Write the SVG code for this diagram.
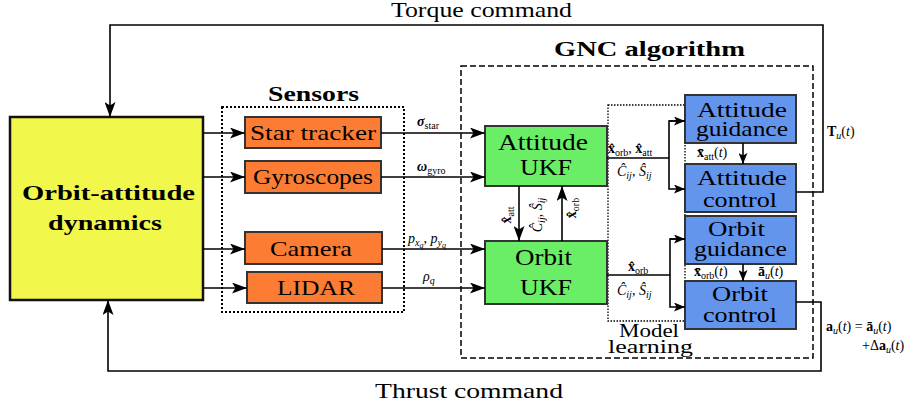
<svg xmlns="http://www.w3.org/2000/svg" width="920" height="410" viewBox="0 0 920 410" font-family="Liberation Serif, serif">
<defs>
<marker id="ah" markerUnits="userSpaceOnUse" markerWidth="15" markerHeight="11" refX="15" refY="5.5" orient="auto">
<path d="M0,0 L15,5.5 L0,11 L3.5,5.5 z" fill="#000"/>
</marker>
<marker id="as" markerUnits="userSpaceOnUse" markerWidth="11" markerHeight="9" refX="11" refY="4.5" orient="auto">
<path d="M0,0 L11,4.5 L0,9 L2.5,4.5 z" fill="#000"/>
</marker>
</defs>

<g id="dynamics">
<rect x="10" y="117" width="193" height="183" fill="#F2F84B" stroke="#111" stroke-width="2.5"/>
<text font-family="Liberation Serif" font-weight="bold" font-size="22" x="22" y="200" textLength="173" lengthAdjust="spacingAndGlyphs">Orbit-attitude</text>
<text font-family="Liberation Serif" font-weight="bold" font-size="22" x="48" y="230" textLength="114" lengthAdjust="spacingAndGlyphs">dynamics</text>
</g>

<g id="sensors">
<rect x="222" y="107" width="182" height="205" fill="none" stroke="#000" stroke-width="2" stroke-dasharray="2,2"/>
<text font-family="Liberation Serif" font-weight="bold" font-size="22" x="268" y="101" textLength="91" lengthAdjust="spacingAndGlyphs">Sensors</text>
</g>
<g id="sensor-boxes" stroke="#333" stroke-width="2" fill="#FC7C33">
<g id="star"><rect x="245" y="117" width="136" height="31"/><text stroke="none" fill="#000" font-family="Liberation Serif" font-size="22" x="250" y="140" textLength="126" lengthAdjust="spacingAndGlyphs">Star tracker</text></g>
<g id="gyro"><rect x="245" y="161" width="136" height="32"/><text stroke="none" fill="#000" font-family="Liberation Serif" font-size="22" x="253" y="184" textLength="120" lengthAdjust="spacingAndGlyphs">Gyroscopes</text></g>
<g id="camera"><rect x="245" y="232" width="137" height="32"/><text stroke="none" fill="#000" font-family="Liberation Serif" font-size="22" x="270" y="256" textLength="82" lengthAdjust="spacingAndGlyphs">Camera</text></g>
<g id="lidar"><rect x="247" y="272" width="135" height="31"/><text stroke="none" fill="#000" font-family="Liberation Serif" font-size="22" x="277" y="295" textLength="78" lengthAdjust="spacingAndGlyphs">LIDAR</text></g>
</g>

<g id="gnc">
<rect x="461" y="66" width="352" height="292" fill="none" stroke="#000" stroke-width="1.5" stroke-dasharray="6,3"/>
<text font-family="Liberation Serif" font-weight="bold" font-size="22" x="554" y="56" textLength="191" lengthAdjust="spacingAndGlyphs">GNC algorithm</text>
</g>

<g id="model">
<rect x="608" y="105" width="77" height="216" fill="none" stroke="#000" stroke-width="1.3" stroke-dasharray="1.5,1.5"/>
<text font-family="Liberation Serif" font-size="19" x="619" y="337" textLength="60" lengthAdjust="spacingAndGlyphs">Model</text>
<text font-family="Liberation Serif" font-size="19" x="608" y="353" textLength="85" lengthAdjust="spacingAndGlyphs">learning</text>
</g>

<g id="ukfs" stroke="#333" stroke-width="2" fill="#6AEE66">
<g id="attukf"><rect x="485" y="126" width="122" height="60"/>
<text stroke="none" fill="#000" font-family="Liberation Serif" font-size="24" x="498" y="150" textLength="90" lengthAdjust="spacingAndGlyphs">Attitude</text>
<text stroke="none" fill="#000" font-family="Liberation Serif" font-size="24" x="520" y="175" textLength="52" lengthAdjust="spacingAndGlyphs">UKF</text></g>
<g id="orbukf"><rect x="485" y="241" width="122" height="63"/>
<text stroke="none" fill="#000" font-family="Liberation Serif" font-size="24" x="515" y="265" textLength="57" lengthAdjust="spacingAndGlyphs">Orbit</text>
<text stroke="none" fill="#000" font-family="Liberation Serif" font-size="24" x="520" y="295" textLength="52" lengthAdjust="spacingAndGlyphs">UKF</text></g>
</g>

<g id="gnc-blocks" stroke="#333" stroke-width="2" fill="#6495ED">
<g id="attguid"><rect x="685" y="95" width="111" height="48"/>
<text stroke="none" fill="#000" font-family="Liberation Serif" font-size="22" x="697" y="117" textLength="90" lengthAdjust="spacingAndGlyphs">Attitude</text>
<text stroke="none" fill="#000" font-family="Liberation Serif" font-size="22" x="696" y="136" textLength="92" lengthAdjust="spacingAndGlyphs">guidance</text></g>
<g id="attctrl"><rect x="685" y="164" width="111" height="48"/>
<text stroke="none" fill="#000" font-family="Liberation Serif" font-size="22" x="697" y="185" textLength="90" lengthAdjust="spacingAndGlyphs">Attitude</text>
<text stroke="none" fill="#000" font-family="Liberation Serif" font-size="22" x="703" y="207" textLength="74" lengthAdjust="spacingAndGlyphs">control</text></g>
<g id="orbguid"><rect x="685" y="216" width="111" height="48"/>
<text stroke="none" fill="#000" font-family="Liberation Serif" font-size="22" x="708" y="236" textLength="57" lengthAdjust="spacingAndGlyphs">Orbit</text>
<text stroke="none" fill="#000" font-family="Liberation Serif" font-size="22" x="694" y="256" textLength="93" lengthAdjust="spacingAndGlyphs">guidance</text></g>
<g id="orbctrl"><rect x="685" y="281" width="111" height="48"/>
<text stroke="none" fill="#000" font-family="Liberation Serif" font-size="22" x="712" y="301" textLength="56" lengthAdjust="spacingAndGlyphs">Orbit</text>
<text stroke="none" fill="#000" font-family="Liberation Serif" font-size="22" x="703" y="322" textLength="74" lengthAdjust="spacingAndGlyphs">control</text></g>
</g>

<g id="connectors" fill="none" stroke="#000" stroke-width="1.6">
<path d="M203,133 H245" marker-end="url(#ah)"/>
<path d="M203,177 H245" marker-end="url(#ah)"/>
<path d="M203,249 H245" marker-end="url(#ah)"/>
<path d="M203,288 H247" marker-end="url(#ah)"/>
<path d="M381,133 H485" marker-end="url(#ah)"/>
<path d="M381,177 H485" marker-end="url(#ah)"/>
<path d="M382,249 H485" marker-end="url(#ah)"/>
<path d="M382,288 H485" marker-end="url(#ah)"/>
<path d="M519,186 V241" marker-end="url(#ah)"/>
<path d="M562,241 V186" marker-end="url(#ah)"/>
<path d="M607,158 H669"/>
<path d="M685,121 H669 V189 H685" marker-end="url(#as)"/>
<path d="M669,121 H685" marker-end="url(#as)"/>
<path d="M607,275 H670"/>
<path d="M685,239 H670 V307 H685" marker-end="url(#as)"/>
<path d="M670,239 H685" marker-end="url(#as)"/>
<path d="M743,143 V164" marker-end="url(#as)"/>
<path d="M743,264 V281" marker-end="url(#as)"/>
<path d="M796,192 H823 V25 H110 V117" marker-end="url(#ah)"/>
<path d="M796,302 H821 V371 H108 V300" marker-end="url(#ah)"/>
</g>

<g id="labels" font-size="14" font-family="Liberation Serif">
<text font-family="Liberation Serif" x="391" y="17" font-size="22" textLength="181" lengthAdjust="spacingAndGlyphs">Torque command</text>
<text font-family="Liberation Serif" x="375" y="398" font-size="22" textLength="188" lengthAdjust="spacingAndGlyphs">Thrust command</text>
<text font-family="Liberation Serif" x="417" y="126"><tspan font-weight="bold" font-style="italic">&#x3C3;</tspan><tspan font-size="10" dy="3">star</tspan></text>
<text font-family="Liberation Serif" x="417" y="171"><tspan font-weight="bold" font-style="italic">&#x3C9;</tspan><tspan font-size="10" dy="3">gyro</tspan></text>
<text font-family="Liberation Serif" x="408" y="243"><tspan font-style="italic">p</tspan><tspan font-size="10" font-style="italic" dy="3">x</tspan><tspan font-size="8" font-style="italic" dy="2">q</tspan><tspan dy="-5">, </tspan><tspan font-style="italic">p</tspan><tspan font-size="10" font-style="italic" dy="3">y</tspan><tspan font-size="8" font-style="italic" dy="2">q</tspan></text>
<text font-family="Liberation Serif" x="423" y="281"><tspan font-style="italic">&#x3C1;</tspan><tspan font-size="10" font-style="italic" dy="3">q</tspan></text>
<text font-family="Liberation Serif" x="608" y="153"><tspan font-weight="bold">x&#x302;</tspan><tspan font-size="10" dy="3">orb</tspan><tspan dy="-3">, </tspan><tspan font-weight="bold">x&#x302;</tspan><tspan font-size="10" dy="3">att</tspan></text>
<text font-family="Liberation Serif" x="617" y="176"><tspan font-style="italic">&#x108;</tspan><tspan font-size="10" font-style="italic" dy="3">ij</tspan><tspan dy="-3">, </tspan><tspan font-style="italic">&#x15C;</tspan><tspan font-size="10" font-style="italic" dy="3">ij</tspan></text>
<text font-family="Liberation Serif" x="628" y="271"><tspan font-weight="bold">x&#x302;</tspan><tspan font-size="10" dy="3">orb</tspan></text>
<text font-family="Liberation Serif" x="617" y="295"><tspan font-style="italic">&#x108;</tspan><tspan font-size="10" font-style="italic" dy="3">ij</tspan><tspan dy="-3">, </tspan><tspan font-style="italic">&#x15C;</tspan><tspan font-size="10" font-style="italic" dy="3">ij</tspan></text>
<text font-family="Liberation Serif" transform="translate(511,215) rotate(-90)" text-anchor="middle"><tspan font-weight="bold">x&#x302;</tspan><tspan font-size="10" dy="3">att</tspan></text>
<text font-family="Liberation Serif" transform="translate(542,215) rotate(-90)" text-anchor="middle"><tspan font-style="italic">&#x108;</tspan><tspan font-size="10" font-style="italic" dy="3">ij</tspan><tspan dy="-3">, </tspan><tspan font-style="italic">&#x15C;</tspan><tspan font-size="10" font-style="italic" dy="3">ij</tspan></text>
<text font-family="Liberation Serif" transform="translate(576,208) rotate(-90)" text-anchor="middle"><tspan font-weight="bold">x&#x302;</tspan><tspan font-size="10" dy="3">orb</tspan></text>
<text font-family="Liberation Serif" x="697" y="157"><tspan font-weight="bold">x&#x304;</tspan><tspan font-size="10" dy="3">att</tspan><tspan dy="-3">(</tspan><tspan font-style="italic">t</tspan>)</text>
<text font-family="Liberation Serif" x="694" y="276"><tspan font-weight="bold">x&#x304;</tspan><tspan font-size="10" dy="3">orb</tspan><tspan dy="-3">(</tspan><tspan font-style="italic">t</tspan>)</text>
<text font-family="Liberation Serif" x="758" y="276"><tspan font-weight="bold">&#x101;</tspan><tspan font-size="10" font-style="italic" dy="3">u</tspan><tspan dy="-3">(</tspan><tspan font-style="italic">t</tspan>)</text>
<text font-family="Liberation Serif" x="827" y="136"><tspan font-weight="bold">T</tspan><tspan font-size="10" font-style="italic" dy="3">u</tspan><tspan dy="-3">(</tspan><tspan font-style="italic">t</tspan>)</text>
<text font-family="Liberation Serif" x="826" y="331"><tspan font-weight="bold">a</tspan><tspan font-size="10" font-style="italic" dy="3">u</tspan><tspan dy="-3">(</tspan><tspan font-style="italic">t</tspan>) = <tspan font-weight="bold">&#x101;</tspan><tspan font-size="10" font-style="italic" dy="3">u</tspan><tspan dy="-3">(</tspan><tspan font-style="italic">t</tspan>)</text>
<text font-family="Liberation Serif" x="862" y="350">+&#x394;<tspan font-weight="bold">a</tspan><tspan font-size="10" font-style="italic" dy="3">u</tspan><tspan dy="-3">(</tspan><tspan font-style="italic">t</tspan>)</text>
</g>
</svg>
